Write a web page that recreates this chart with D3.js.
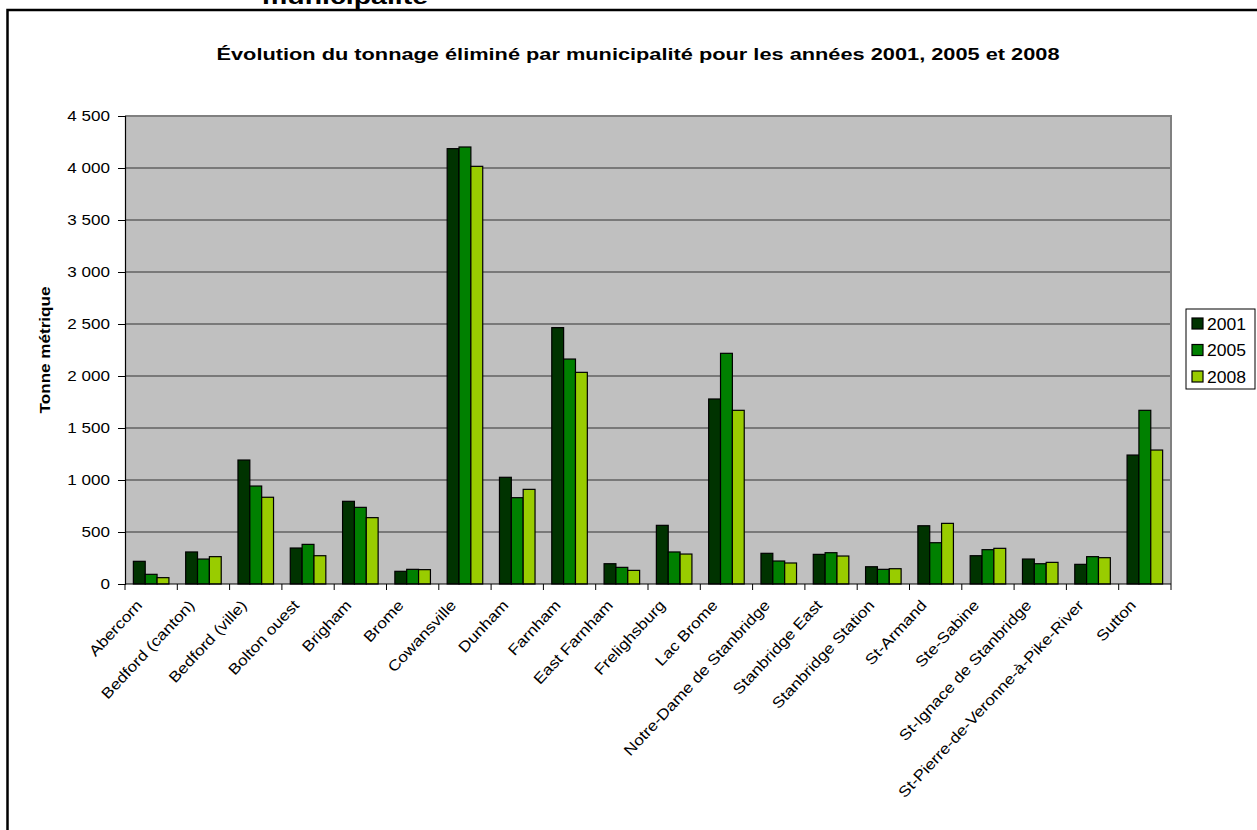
<!DOCTYPE html>
<html>
<head>
<meta charset="utf-8">
<script src="https://cdn.jsdelivr.net/npm/d3@7"></script>
<style>
  html, body { margin: 0; padding: 0; background: #fff; }
  svg { display: block; font-family: "Liberation Sans", Arial, sans-serif; }
</style>
</head>
<body>
<svg id="chart" width="1257" height="830"></svg>
<script>
const categories = ["Abercorn", "Bedford (canton)", "Bedford (ville)", "Bolton ouest", "Brigham", "Brome",
  "Cowansville", "Dunham", "Farnham", "East Farnham", "Frelighsburg", "Lac Brome",
  "Notre-Dame de Stanbridge", "Stanbridge East", "Stanbridge Station", "St-Armand", "Ste-Sabine",
  "St-Ignace de Stanbridge", "St-Pierre-de-Veronne-à-Pike-River", "Sutton"];
const years = ["2001", "2005", "2008"];
const values2001 = [218, 308, 1192, 346, 795, 122, 4186, 1026, 2465, 195, 564, 1779, 295, 285, 166, 560, 272, 240, 189, 1240];
const values2005 = [93, 240, 942, 381, 737, 141, 4202, 830, 2163, 160, 308, 2218, 221, 301, 141, 397, 330, 195, 263, 1670];
const values2008 = [61, 263, 834, 272, 638, 138, 4016, 910, 2035, 131, 288, 1670, 202, 269, 147, 583, 343, 208, 253, 1288];
const yTicks = [0, 500, 1000, 1500, 2000, 2500, 3000, 3500, 4000, 4500];
const titleText = "Évolution du tonnage éliminé par municipalité pour les années 2001, 2005 et 2008";
const clippedHeading = "municipalité";
const yTitle = "Tonne métrique";

const colors = ["#003300", "#008000", "#99CC00"];
const series = [values2001, values2005, values2008];

const svg = d3.select("#chart");
const L = 125, R = 1171, T = 116, B = 584;

// outer chart frame (cut off at right/bottom)
svg.append("rect").attr("x", 7.5).attr("y", 10).attr("width", 1400).attr("height", 1000)
  .attr("fill", "none").attr("stroke", "#000").attr("stroke-width", 2.5);

// clipped heading above the frame
svg.append("text").attr("x", 345).attr("y", 4).attr("text-anchor", "middle")
  .attr("font-size", 22).attr("font-weight", "bold")
  .attr("textLength", 166).attr("lengthAdjust", "spacingAndGlyphs").text(clippedHeading);

// title
svg.append("text").attr("x", 638).attr("y", 60).attr("text-anchor", "middle")
  .attr("font-size", 17).attr("font-weight", "bold")
  .attr("textLength", 843).attr("lengthAdjust", "spacingAndGlyphs").text(titleText);

const x0 = d3.scaleBand().domain(categories).range([L, R]).paddingInner(0.32).paddingOuter(0.16);
const x1 = d3.scaleBand().domain(years).range([0, x0.bandwidth()]);
const y = d3.scaleLinear().domain([0, 4500]).range([B, T]);
const fmt = d3.formatLocale({ decimal: ",", thousands: " ", grouping: [3], currency: ["", ""] }).format(",d");

// plot background
svg.append("rect").attr("x", L).attr("y", T).attr("width", R - L).attr("height", B - T).attr("fill", "#C0C0C0");

// gridlines
svg.append("g").selectAll("line").data(yTicks.filter(d => d > 0)).join("line")
  .attr("x1", L).attr("x2", R).attr("y1", d => y(d)).attr("y2", d => y(d))
  .attr("stroke", "#333").attr("stroke-width", 1.2);

// plot border top/right
svg.append("path").attr("d", `M${L},${T}H${R}V${B}`).attr("fill", "none")
  .attr("stroke", "#808080").attr("stroke-width", 2);

// bars
const g = svg.append("g");
categories.forEach((c, i) => {
  years.forEach((yr, k) => {
    const v = series[k][i];
    g.append("rect")
      .attr("x", x0(c) + x1(yr)).attr("width", x1.bandwidth())
      .attr("y", y(v)).attr("height", y(0) - y(v))
      .attr("fill", colors[k]).attr("stroke", "#000").attr("stroke-width", 1.2);
  });
});

// y axis
const yAxis = d3.axisLeft(y).tickValues(yTicks).tickSize(7).tickPadding(8).tickFormat(() => "");
const ya = svg.append("g").attr("transform", `translate(${L},0)`).call(yAxis);
ya.select(".domain").attr("stroke", "#000").attr("stroke-width", 1.2);
ya.selectAll(".tick line").attr("stroke", "#000");
ya.selectAll(".tick").append("text")
  .attr("fill", "#000").attr("font-size", 14).attr("text-anchor", "end")
  .attr("transform", "translate(-15,0) scale(1.22,1)").attr("dy", "0.35em")
  .text(d => fmt(d));

// x axis
const boundaries = categories.map(c => x0(c) - x0.step() * x0.paddingInner() / 2).concat([R]);
svg.append("line").attr("x1", L).attr("x2", R).attr("y1", B).attr("y2", B).attr("stroke", "#000").attr("stroke-width", 1.2);
svg.append("g").selectAll("line").data(boundaries).join("line")
  .attr("x1", d => d).attr("x2", d => d).attr("y1", B).attr("y2", B + 6).attr("stroke", "#000");

svg.append("g").selectAll("text").data(categories).join("text")
  .attr("font-size", 15).attr("text-anchor", "end").attr("fill", "#000")
  .attr("transform", c => `translate(${x0(c) + x0.bandwidth() / 2 - 8},${B + 22}) rotate(-47) scale(1.15,1)`)
  .text(c => c);

// y title
svg.append("text").attr("font-size", 14).attr("font-weight", "bold").attr("text-anchor", "middle")
  .attr("transform", `translate(50,${(T + B) / 2}) rotate(-90) scale(1.22,1)`).text(yTitle);

// legend
const lg = svg.append("g");
lg.append("rect").attr("x", 1186).attr("y", 309).attr("width", 69).attr("height", 80)
  .attr("fill", "#fff").attr("stroke", "#000").attr("stroke-width", 1);
years.forEach((yr, k) => {
  const cy = 324 + k * 26.5;
  lg.append("rect").attr("x", 1192).attr("y", cy - 6).attr("width", 11).attr("height", 11)
    .attr("fill", colors[k]).attr("stroke", "#000").attr("stroke-width", 1.2);
  lg.append("text").attr("x", 1207).attr("y", cy).attr("dy", "0.36em").attr("font-size", 16)
    .attr("textLength", 39).attr("lengthAdjust", "spacingAndGlyphs").text(yr);
});
</script>
</body>
</html>
